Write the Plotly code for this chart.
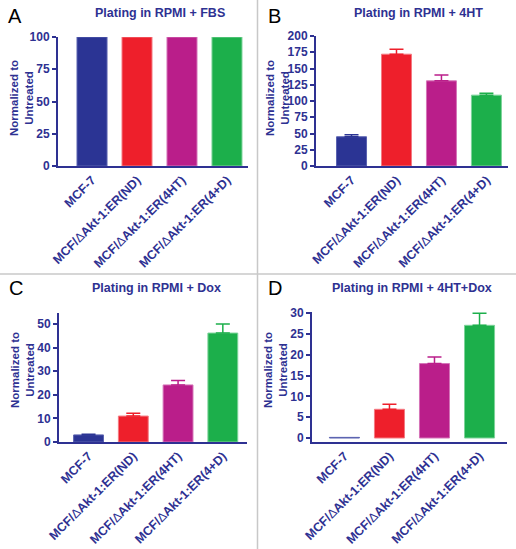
import plotly.graph_objects as go

W, H = 516, 549

categories = ["MCF-7", "MCF/ΔAkt-1:ER(ND)", "MCF/ΔAkt-1:ER(4HT)", "MCF/ΔAkt-1:ER(4+D)"]
bar_colors = ["#2B3494", "#EE1F2B", "#BA1E8A", "#1CAF4B"]
line_colors = ["#5A62B0", "#F47A82", "#D574B8", "#7DD39A"]

vals_A = [100, 100, 100, 100]
err_A = [0, 0, 0, 0]
vals_B = [45, 172, 131, 109]
err_B = [3, 7.5, 9, 3]
vals_C = [3.0, 11.0, 24.2, 46.2]
err_C = [0.3, 1.2, 1.9, 3.8]
vals_D = [0.15, 6.9, 17.9, 27.1]
err_D = [0, 1.2, 1.6, 2.9]

titles = ["Plating in RPMI + FBS", "Plating in RPMI + 4HT",
          "Plating in RPMI + Dox", "Plating in RPMI + 4HT+Dox"]
letters = ["A", "B", "C", "D"]

NAVY = "#2E3192"
FONT = "Liberation Sans, Arial, sans-serif"

panels = [
    dict(vals=vals_A, err=err_A, px=(58, 248, 37, 166), xr=[-0.756, 3.467], yr=[0, 100], dt=25,
         title_xy=(160, 13), letter_xy=(15, 16), ytitle_xy=(21, 98)),
    dict(vals=vals_B, err=err_B, px=(316, 508, 36, 166), xr=[-0.79, 3.48], yr=[0, 200], dt=25,
         title_xy=(418, 13), letter_xy=(274, 16), ytitle_xy=(277, 98)),
    dict(vals=vals_C, err=err_C, px=(59, 247, 313, 442), xr=[-0.66, 3.54], yr=[0, 54.7], dt=10,
         title_xy=(156, 288), letter_xy=(16, 288), ytitle_xy=(22, 370)),
    dict(vals=vals_D, err=err_D, px=(312, 507, 312, 442), xr=[-0.72, 3.61], yr=[-0.96, 30.3], dt=5,
         title_xy=(412, 288), letter_xy=(275, 288), ytitle_xy=(275, 370)),
]

def fx(p):
    return p / W

def fy(p):
    return 1 - p / H

ticktext = [c.replace("Δ", "<span style='font-weight:normal'>Δ</span>") for c in categories]

fig = go.Figure()
annotations = []
for i, p in enumerate(panels):
    n = "" if i == 0 else str(i + 1)
    xl, xr_, yt, yb = p["px"]
    fig.add_trace(go.Bar(
        x=list(range(len(categories))), y=p["vals"], width=0.667,
        marker=dict(color=bar_colors, line=dict(color=line_colors, width=1)),
        xaxis="x" + n, yaxis="y" + n, showlegend=False,
    ))
    for k in range(len(categories)):
        fig.add_trace(go.Scatter(
            x=[k], y=[p["vals"][k]], mode="markers", marker=dict(size=0.1, color="rgba(0,0,0,0)"),
            error_y=dict(type="data", array=[p["err"][k]], arrayminus=[0], symmetric=False,
                         color=bar_colors[k], thickness=1.5, width=7,
                         visible=p["err"][k] > 0),
            xaxis="x" + n, yaxis="y" + n, showlegend=False, hoverinfo="skip",
        ))
    fig.layout["xaxis" + n] = dict(
        domain=[fx(xl), fx(xr_)], range=p["xr"], anchor="y" + n, automargin=False,
        tickvals=list(range(len(categories))), ticktext=ticktext, tickangle=-45,
        tickfont=dict(family=FONT, size=12.5, color=NAVY, weight="bold"),
        showline=True, linecolor=NAVY, linewidth=2, ticks="", showgrid=False, zeroline=False,
        fixedrange=True,
    )
    fig.layout["yaxis" + n] = dict(
        domain=[fy(yb), fy(yt)], range=p["yr"], anchor="x" + n, dtick=p["dt"], tick0=0,
        automargin=False,
        tickfont=dict(family=FONT, size=12, color=NAVY, weight="bold"),
        showline=True, linecolor=NAVY, linewidth=2, ticks="outside", ticklen=4, tickwidth=2,
        tickcolor=NAVY, showgrid=False, zeroline=False, fixedrange=True,
    )
    tx, ty = p["title_xy"]
    annotations.append(dict(text="<b>" + titles[i] + "</b>", x=fx(tx), y=fy(ty), xref="paper", yref="paper",
                            showarrow=False, font=dict(family=FONT, size=12.5, color=NAVY),
                            xanchor="center", yanchor="middle"))
    lx, ly = p["letter_xy"]
    annotations.append(dict(text=letters[i], x=fx(lx), y=fy(ly), xref="paper", yref="paper",
                            showarrow=False, font=dict(family=FONT, size=20, color="black"),
                            xanchor="center", yanchor="middle"))
    yx, yy = p["ytitle_xy"]
    annotations.append(dict(text="<b>Normalized to<br>Untreated</b>", x=fx(yx), y=fy(yy),
                            xref="paper", yref="paper", showarrow=False, textangle=-90,
                            font=dict(family=FONT, size=11.5, color=NAVY),
                            xanchor="center", yanchor="middle"))

shapes = [
    dict(type="line", xref="paper", yref="paper", x0=fx(257.5), x1=fx(257.5), y0=0, y1=1,
         line=dict(color="#C8C8C8", width=1.5)),
    dict(type="line", xref="paper", yref="paper", x0=0, x1=1, y0=fy(274), y1=fy(274),
         line=dict(color="#C8C8C8", width=1.5)),
]

fig.update_layout(
    width=W, height=H, margin=dict(l=0, r=0, t=0, b=0, autoexpand=False),
    paper_bgcolor="white", plot_bgcolor="white",
    annotations=annotations, shapes=shapes, showlegend=False, hovermode=False,
    font=dict(family=FONT, color=NAVY),
)

fig.write_html("out.html", config={"displayModeBar": False, "staticPlot": True},
               post_script="document.body.style.margin='0';document.body.style.overflow='hidden';")
